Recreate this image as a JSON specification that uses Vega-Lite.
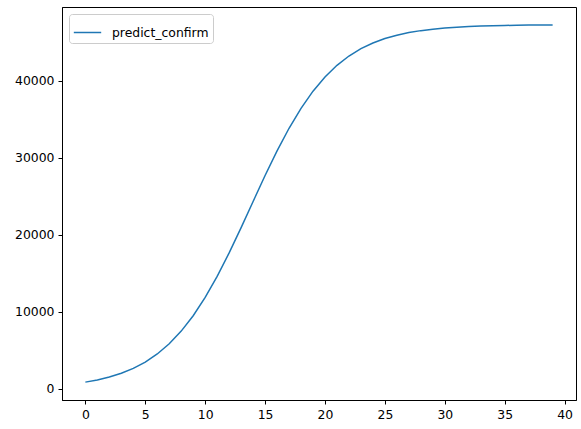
{
  "$schema": "https://vega.github.io/schema/vega-lite/v6.json",
  "width": 514,
  "height": 393,
  "autosize": {"type": "none"},
  "padding": {"left": 62, "top": 7, "right": 5, "bottom": 29},
  "background": "white",
  "config": {
    "view": {"stroke": "black", "strokeWidth": 1},
    "font": "DejaVu Sans",
    "axis": {
      "grid": false,
      "domainColor": "black",
      "tickColor": "black",
      "tickSize": 4,
      "labelFontSize": 12.4,
      "labelColor": "black",
      "labelFont": "DejaVu Sans",
      "labelPadding": 4,
      "title": null
    }
  },
  "data": {
    "values": [
      {"t": 0, "v": 873, "s": "predict_confirm"},
      {"t": 1, "v": 1156, "s": "predict_confirm"},
      {"t": 2, "v": 1531, "s": "predict_confirm"},
      {"t": 3, "v": 2020, "s": "predict_confirm"},
      {"t": 4, "v": 2656, "s": "predict_confirm"},
      {"t": 5, "v": 3478, "s": "predict_confirm"},
      {"t": 6, "v": 4526, "s": "predict_confirm"},
      {"t": 7, "v": 5850, "s": "predict_confirm"},
      {"t": 8, "v": 7494, "s": "predict_confirm"},
      {"t": 9, "v": 9492, "s": "predict_confirm"},
      {"t": 10, "v": 11866, "s": "predict_confirm"},
      {"t": 11, "v": 14603, "s": "predict_confirm"},
      {"t": 12, "v": 17656, "s": "predict_confirm"},
      {"t": 13, "v": 20939, "s": "predict_confirm"},
      {"t": 14, "v": 24335, "s": "predict_confirm"},
      {"t": 15, "v": 27701, "s": "predict_confirm"},
      {"t": 16, "v": 30905, "s": "predict_confirm"},
      {"t": 17, "v": 33841, "s": "predict_confirm"},
      {"t": 18, "v": 36435, "s": "predict_confirm"},
      {"t": 19, "v": 38656, "s": "predict_confirm"},
      {"t": 20, "v": 40510, "s": "predict_confirm"},
      {"t": 21, "v": 42018, "s": "predict_confirm"},
      {"t": 22, "v": 43227, "s": "predict_confirm"},
      {"t": 23, "v": 44177, "s": "predict_confirm"},
      {"t": 24, "v": 44919, "s": "predict_confirm"},
      {"t": 25, "v": 45494, "s": "predict_confirm"},
      {"t": 26, "v": 45932, "s": "predict_confirm"},
      {"t": 27, "v": 46267, "s": "predict_confirm"},
      {"t": 28, "v": 46521, "s": "predict_confirm"},
      {"t": 29, "v": 46714, "s": "predict_confirm"},
      {"t": 30, "v": 46859, "s": "predict_confirm"},
      {"t": 31, "v": 46968, "s": "predict_confirm"},
      {"t": 32, "v": 47051, "s": "predict_confirm"},
      {"t": 33, "v": 47113, "s": "predict_confirm"},
      {"t": 34, "v": 47160, "s": "predict_confirm"},
      {"t": 35, "v": 47195, "s": "predict_confirm"},
      {"t": 36, "v": 47221, "s": "predict_confirm"},
      {"t": 37, "v": 47241, "s": "predict_confirm"},
      {"t": 38, "v": 47256, "s": "predict_confirm"},
      {"t": 39, "v": 47267, "s": "predict_confirm"}
    ]
  },
  "mark": {"type": "line", "strokeWidth": 1.5},
  "encoding": {
    "x": {
      "field": "t",
      "type": "quantitative",
      "scale": {"domain": [-1.95, 40.95], "nice": false, "zero": false},
      "axis": {"values": [0, 5, 10, 15, 20, 25, 30, 35, 40], "format": "d"}
    },
    "y": {
      "field": "v",
      "type": "quantitative",
      "scale": {"domain": [-1450, 49590], "nice": false, "zero": false},
      "axis": {"values": [0, 10000, 20000, 30000, 40000], "format": "d"}
    },
    "color": {
      "field": "s",
      "type": "nominal",
      "scale": {"range": ["#1f77b4"]},
      "legend": {
        "title": null,
        "orient": "none",
        "legendX": 7,
        "legendY": 7,
        "symbolType": "stroke",
        "symbolSize": 750,
        "symbolStrokeWidth": 1.5,
        "labelFontSize": 12.4,
        "labelFont": "DejaVu Sans",
        "labelColor": "black",
        "labelOffset": 10,
        "fillColor": "white",
        "strokeColor": "#cccccc",
        "cornerRadius": 3,
        "padding": 4
      }
    }
  }
}
